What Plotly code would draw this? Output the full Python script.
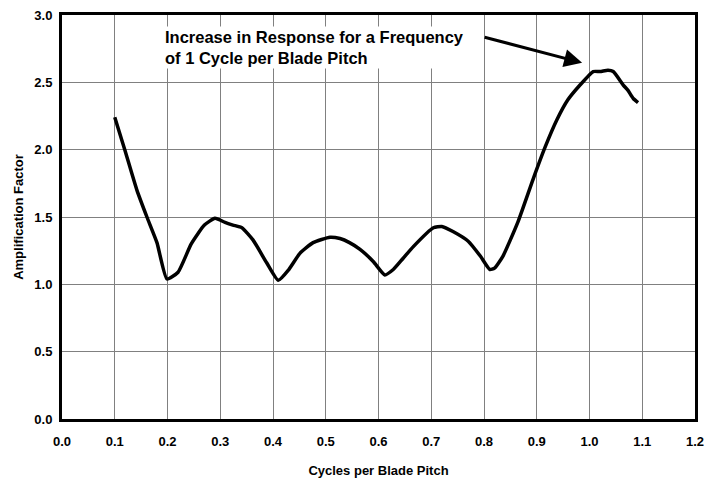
import plotly.graph_objects as go

cycles = [0.100, 0.119, 0.142, 0.161, 0.180, 0.199, 0.220, 0.245, 0.270, 0.290, 0.309,
          0.324, 0.341, 0.362, 0.388, 0.410, 0.430, 0.451, 0.476, 0.508, 0.527, 0.545,
          0.565, 0.590, 0.612, 0.628, 0.646, 0.666, 0.704, 0.720, 0.742, 0.770, 0.793,
          0.811, 0.820, 0.836, 0.864, 0.893, 0.916, 0.938, 0.959, 0.982, 1.007, 1.020,
          1.035, 1.045, 1.064, 1.073, 1.083, 1.092]
amp = [2.24, 2.00, 1.70, 1.50, 1.31, 1.04, 1.09, 1.30, 1.44, 1.49, 1.46,
       1.44, 1.42, 1.33, 1.16, 1.03, 1.11, 1.23, 1.31, 1.35, 1.34, 1.31,
       1.26, 1.17, 1.07, 1.11, 1.19, 1.28, 1.42, 1.43, 1.39, 1.32, 1.21,
       1.11, 1.12, 1.21, 1.46, 1.78, 2.02, 2.22, 2.37, 2.48, 2.58, 2.58,
       2.59, 2.58, 2.48, 2.44, 2.38, 2.35]

x_ticks = [0.0, 0.1, 0.2, 0.3, 0.4, 0.5, 0.6, 0.7, 0.8, 0.9, 1.0, 1.1, 1.2]
y_ticks = [0.0, 0.5, 1.0, 1.5, 2.0, 2.5, 3.0]

FONT = "Liberation Sans Narrow, Arial Narrow, Liberation Sans, Arial, sans-serif"

fig = go.Figure()
fig.add_trace(go.Scatter(x=cycles, y=amp, mode="lines",
                         line=dict(color="black", width=3.5, shape="spline", smoothing=0.5),
                         showlegend=False, hoverinfo="skip"))

axis_common = dict(showgrid=True, gridcolor="#808080", gridwidth=1,
                   showline=True, linecolor="black", linewidth=3, mirror=True,
                   zeroline=False, ticks="", automargin=False, ticklabeloverflow="allow",
                   tickfont=dict(family=FONT, size=13, color="black", weight="bold"))

fig.update_xaxes(range=[0, 1.2], tickvals=x_ticks, ticktext=[f"{v:.1f}" for v in x_ticks],
                 ticklabelstandoff=8,
                 title=dict(text="Cycles per Blade Pitch", standoff=19,
                            font=dict(family=FONT, size=13, color="black", weight="bold")),
                 **axis_common)
fig.update_yaxes(range=[0, 3.0], tickvals=y_ticks, ticktext=[f"{v:.1f}" for v in y_ticks],
                 ticklabelstandoff=4,
                 title=dict(text="Amplification Factor", standoff=8,
                            font=dict(family=FONT, size=13, color="black", weight="bold")),
                 **axis_common)

fig.add_annotation(x=0.1915, y=2.756, xref="x", yref="y", xanchor="left", yanchor="middle",
                   align="left", showarrow=False, bgcolor="white",
                   text="Increase in Response for a Frequency<br>of 1 Cycle per Blade Pitch",
                   font=dict(family=FONT, size=16.5, color="black", weight="bold"))
fig.add_annotation(x=0.986, y=2.645, xref="x", yref="y", ax=-99, ay=-26,
                   showarrow=True, arrowhead=2, arrowsize=1.2, arrowwidth=3,
                   arrowcolor="black", text="")

# page body has an 8px margin, so the figure is sized to fit the 717x480 window
fig.update_layout(width=709, height=472, margin=dict(l=54, r=22, t=7, b=61),
                  paper_bgcolor="white", plot_bgcolor="white")

fig.write_html("out.html")
